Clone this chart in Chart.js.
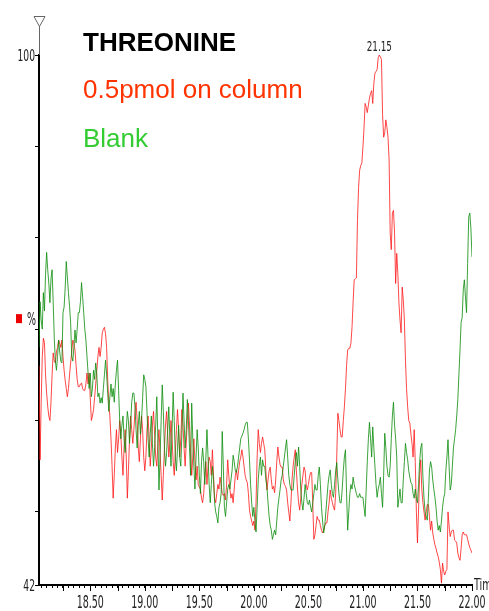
<!DOCTYPE html>
<html><head><meta charset="utf-8">
<script src="https://cdn.jsdelivr.net/npm/chart.js@4"></script>
<style>html,body{margin:0;padding:0;background:#fff;overflow:hidden}#wrap{width:489px;height:611px;position:relative}</style>
</head><body><div id="wrap"><canvas id="c" width="489" height="611"></canvas></div>
<script>
const retentionTimes = [
18.03,18.04,18.05,18.06,18.07,18.08,18.09,
18.10,18.11,18.12,18.13,18.14,18.15,18.16,18.17,18.18,18.19,
18.20,18.21,18.22,18.23,18.24,18.25,18.26,18.27,18.28,18.29,
18.30,18.31,18.32,18.33,18.34,18.35,18.36,18.37,18.38,18.39,
18.40,18.41,18.42,18.43,18.44,18.45,18.46,18.47,18.48,18.49,
18.50,18.51,18.52,18.53,18.54,18.55,18.56,18.57,18.58,18.59,
18.60,18.61,18.62,18.63,18.64,18.65,18.66,18.67,18.68,18.69,
18.70,18.71,18.72,18.73,18.74,18.75,18.76,18.77,18.78,18.79,
18.80,18.81,18.82,18.83,18.84,18.85,18.86,18.87,18.88,18.89,
18.90,18.91,18.92,18.93,18.94,18.95,18.96,18.97,18.98,18.99,
19.00,19.01,19.02,19.03,19.04,19.05,19.06,19.07,19.08,19.09,
19.10,19.11,19.12,19.13,19.14,19.15,19.16,19.17,19.18,19.19,
19.20,19.21,19.22,19.23,19.24,19.25,19.26,19.27,19.28,19.29,
19.30,19.31,19.32,19.33,19.34,19.35,19.36,19.37,19.38,19.39,
19.40,19.41,19.42,19.43,19.44,19.45,19.46,19.47,19.48,19.49,
19.50,19.51,19.52,19.53,19.54,19.55,19.56,19.57,19.58,19.59,
19.60,19.61,19.62,19.63,19.64,19.65,19.66,19.67,19.68,19.69,
19.70,19.71,19.72,19.73,19.74,19.75,19.76,19.77,19.78,19.79,
19.80,19.81,19.82,19.83,19.84,19.85,19.86,19.87,19.88,19.89,
19.90,19.91,19.92,19.93,19.94,19.95,19.96,19.97,19.98,19.99,
20.00,20.01,20.02,20.03,20.04,20.05,20.06,20.07,20.08,20.09,
20.10,20.11,20.12,20.13,20.14,20.15,20.16,20.17,20.18,20.19,
20.20,20.21,20.22,20.23,20.24,20.25,20.26,20.27,20.28,20.29,
20.30,20.31,20.32,20.33,20.34,20.35,20.36,20.37,20.38,20.39,
20.40,20.41,20.42,20.43,20.44,20.45,20.46,20.47,20.48,20.49,
20.50,20.51,20.52,20.53,20.54,20.55,20.56,20.57,20.58,20.59,
20.60,20.61,20.62,20.63,20.64,20.65,20.66,20.67,20.68,20.69,
20.70,20.71,20.72,20.73,20.74,20.75,20.76,20.77,20.78,20.79,
20.80,20.81,20.82,20.83,20.84,20.85,20.86,20.87,20.88,20.89,
20.90,20.91,20.92,20.93,20.94,20.95,20.96,20.97,20.98,20.99,
21.00,21.01,21.02,21.03,21.04,21.05,21.06,21.07,21.08,21.09,
21.10,21.11,21.12,21.13,21.14,21.15,21.16,21.17,21.18,21.19,
21.20,21.21,21.22,21.23,21.24,21.25,21.26,21.27,21.28,21.29,
21.30,21.31,21.32,21.33,21.34,21.35,21.36,21.37,21.38,21.39,
21.40,21.41,21.42,21.43,21.44,21.45,21.46,21.47,21.48,21.49,
21.50,21.51,21.52,21.53,21.54,21.55,21.56,21.57,21.58,21.59,
21.60,21.61,21.62,21.63,21.64,21.65,21.66,21.67,21.68,21.69,
21.70,21.71,21.72,21.73,21.74,21.75,21.76,21.77,21.78,21.79,
21.80,21.81,21.82,21.83,21.84,21.85,21.86,21.87,21.88,21.89,
21.90,21.91,21.92,21.93,21.94,21.95,21.96,21.97,21.98,21.99,
22.00];

// % intensity, 0.5 pmol on column (red)
const sampleSignal = [
66,55.7,62,67,69,68.5,65,
63,61.5,60.5,60,62,65,67.4,66.5,66.3,67.5,
68,68.8,68.5,68,68.8,67,65.5,64.4,63.5,62.6,
63.5,65,66.3,67.5,68.8,68.5,67.7,66,64.5,63.7,
63.7,64,64.1,63.5,63.3,63.3,64,65.2,64,65.2,
62.5,60,60.5,61.2,62.5,64,65.5,67,68,67,
68,69.6,70,70.2,69.5,68,64.4,62,60.4,58,
55,51.5,54,57,59,56.5,58,60,58.5,56,
54,57,59,56,51.5,54.5,58,60.5,59,57.5,
59,61,62,60,57,55.5,58,60.5,59,56,
54.5,56,59,60.5,58,55,57,59.5,61,58.5,
56,55,57.5,59,56.5,54,51.3,54,57,59.5,
61,58.5,56,57.5,60,58,55.5,54,56.5,59,
61.2,59,56,58,61.2,59.5,57,55,57.5,60,
61.9,59.5,56.5,54,56,58,55.5,53.5,55,53,
52.7,52.5,51.5,51,52,54,55.5,53,55,56,
55.5,54,56.8,54,51.5,51,52,53,52.5,53.8,
53,52,51.8,52,51.3,53,55.7,54,52.5,51.5,
52,51,52.5,54,54.6,53.5,54.5,55.5,56,56.8,
56,55,54,53.5,53.2,52,50.2,49.5,49,48.5,
49,48,51,56,59,57.5,56.5,57.5,58.2,57.5,
56.8,54.5,52.4,53.5,54.5,54.9,53.5,52.5,52.8,52.1,
53.5,55.5,57.1,56,55.2,54.9,54.9,53.5,53,52.8,
52.4,51,50,49,51,53.5,55,56,56.8,54.5,
52.5,51,50.2,51.5,53,54,54.9,54.5,53,52.4,
53,53.8,54.3,54.3,51,47,47.5,48.5,49.5,49.1,
49.1,48.5,48,47.7,48,48.5,48.8,48.8,50,51,
52.4,51.5,51,50.5,50.2,52,56,60.8,60,59,
58.2,58.2,60,61.5,63.5,66,67.7,67.9,67.9,68.5,
70.2,73,75.4,75.5,75.6,81.9,85.5,87.4,87.9,88.2,
89.9,92,94.7,94.3,93.7,94.5,95.3,95.8,96.1,94.7,
96.9,98,98.2,98.4,99.7,100,99.8,99.5,93.5,91,
91.5,92.9,92.1,91,88.5,80.5,78.7,82.7,83,80.5,
75,78.3,76.1,72.9,71,69.6,74.6,73.2,71,66.6,
63.5,61.5,60,59.7,58.5,57.5,56,59,55.4,50,
46.6,50.2,54,55.7,52.4,51,50,49.1,50,50.8,
50.8,49.5,48,49,47.7,47,46.4,46,45.5,45.1,
44.5,43.7,42.2,44.4,43.5,43.1,43.5,43.7,50,48.5,
47.3,47.8,48,48,46.9,46.8,46.6,45.5,45,44.7,
46,47.5,47.8,47.5,47.5,47.5,47,46.5,46.1,45.8,
45.5];

// % intensity, blank (green)
const blankSignal = [
68,73,71,70,74,72,76,
78.4,76.5,75,72.9,75.5,76.5,73,69,66.5,65.5,
67,68.8,67.5,66.5,66.3,71.8,72.4,74.5,77.4,75.7,
74,72.5,70.7,67,66.5,68,69.9,68.5,70,71.8,
71.8,73,75.1,73.5,71.8,70,68.8,67,65.2,63.5,
65.2,62.6,63.5,65.5,64.5,66.3,65,62.6,63,61.9,
62.5,61.9,63.5,65,66.6,65,63,61,62.6,64,
62.6,63.5,62,64,65.5,66.6,63.3,60,58,59.5,
60.5,58,56.5,59,61,60,57.5,59.5,62,63,
63,61.5,59,57,59.5,61,58.5,60,62.5,65,
64.5,63.7,61,58,56,58.5,60.5,57.5,55,57,
59.5,62.6,58,52.4,56,60,63.9,61,57,55,
56.5,59,61.5,58,55,59,63.1,60,56,54.5,
57,59.5,56,55,58.5,63,60,57,59,62.3,
60,57,54,61.9,58,55,52.5,56,59,57,
54,52,55.5,57,55.5,53,56,59,56,53,
51,53,55,53.5,51,50,49.5,48.8,50.5,51,
52,58.8,55,50.5,49.5,51,52.5,53,52.5,53.5,
54.5,56.2,55.5,54.5,54.3,55,56,57,58,58.3,
58.6,59,59.5,59.8,59.8,58,55.7,53,51,49.5,
50.5,49,47.8,50.5,53.5,55,56,54,55.7,55,
55,53.5,52.7,51,49.5,48.5,48,47,47.5,48,
47.5,49,50.5,51.5,52.4,53.5,54,55,56,57,
57.9,56,54,53,52.4,52.4,52.4,54,55.5,56.5,
55,57.1,55,52.5,51,50.2,51.5,53,52,51,
50.8,51.3,50.5,50,51,52,53,52.4,52.4,54,
54.9,53,50.5,49,47.7,48.5,50,51.5,53,54,
54.6,53,52,51.6,53,54.5,55.4,53.5,52,51,
51,52.5,54.5,56,56.8,52,48,50,52,53,
52.5,53.8,53,52.5,52,51.6,51.6,52,51.6,51.6,
51.6,50.5,49.5,52.5,55.5,58,59.8,58,56,59.3,
57,55,53,51.6,52.5,53,53.8,52,50.5,54,
58.6,57,55,54,53.8,55,58,60.5,62,59.5,
58,56,50.5,51.5,52.5,51,51,53.5,55.5,57.5,
56.5,55.7,54.5,53.8,53.2,53,52,51.5,52.5,51.5,
51,53,55.5,57,57.5,53.8,51.5,50,49.5,49.1,
51.5,54.6,55.5,54.9,53.5,52.5,51.6,50.5,49,48,
48.5,47.8,49,50.5,51.5,52,54.5,56,57.9,55,
52.4,53,55,57,58,59,60.5,62.3,65,67.7,
70.7,71.3,74.3,75.4,73.5,71.8,77.2,82.3,82.7,81,
77.9];

const xTickLabels = ['18.50','19.00','19.50','20.00','20.50','21.00','21.50','22.00'];
const yTickLabels = ['42','100'];
const yUnitLabel = '%';
const xUnitLabel = 'Time';
const chartTitle = 'THREONINE';
const seriesNames = ['0.5pmol on column','Blank'];
const peakTime = 21.15;
const peakLabel = '21.15';

const NARROW = "'Liberation Sans Narrow','Arial Narrow','DejaVu Sans Condensed',sans-serif";
const SANS = "'Liberation Sans',Arial,Helvetica,sans-serif";

function squeezeText(ctx, text, x, y, size, sx, align, color) {
  ctx.save();
  ctx.font = size + 'px ' + NARROW;
  ctx.fillStyle = color;
  ctx.textBaseline = 'alphabetic';
  const w = ctx.measureText(text).width * sx;
  let x0 = x;
  if (align === 'center') x0 = x - w / 2;
  else if (align === 'right') x0 = x - w;
  ctx.translate(x0, y);
  ctx.scale(sx, 1);
  ctx.textAlign = 'left';
  ctx.fillText(text, 0, 0);
  ctx.restore();
}

const decor = {
  id: 'decor',
  afterDraw(chart) {
    const ctx = chart.ctx;
    const a = chart.chartArea;
    const xs = chart.scales.x, ys = chart.scales.y;
    ctx.save();
    // axis extension and inverted triangle marker on top
    ctx.strokeStyle = '#666';
    ctx.lineWidth = 1;
    ctx.beginPath();
    ctx.moveTo(a.left + 0.5, a.top);
    ctx.lineTo(a.left + 0.5, 26);
    ctx.stroke();
    ctx.beginPath();
    ctx.moveTo(a.left - 5, 16.5);
    ctx.lineTo(a.left + 6, 16.5);
    ctx.lineTo(a.left + 0.5, 26.5);
    ctx.closePath();
    ctx.stroke();
    // longer x ticks at every 0.25 min
    ctx.strokeStyle = '#000';
    ctx.lineWidth = 1;
    for (let t = 18.25; t <= 22.001; t += 0.25) {
      const px = Math.round(xs.getPixelForValue(t)) + 0.5;
      ctx.beginPath();
      ctx.moveTo(px, a.bottom);
      ctx.lineTo(px, a.bottom + 6);
      ctx.stroke();
    }
    // x tick labels
    xTickLabels.forEach(l => {
      const px = xs.getPixelForValue(parseFloat(l));
      squeezeText(ctx, l, px, 608, 17, 0.62, 'center', '#222');
    });
    squeezeText(ctx, xUnitLabel, 474, 590, 15, 0.72, 'left', '#222');
    // y tick labels
    yTickLabels.forEach(l => {
      const py = ys.getPixelForValue(parseFloat(l));
      squeezeText(ctx, l, 35, py + 5.5, 15, 0.68, 'right', '#222');
    });
    // % unit and red marker
    const pm = ys.getPixelForValue(70);
    ctx.fillStyle = '#ee0000';
    ctx.fillRect(16, pm - 15, 6, 9);
    squeezeText(ctx, yUnitLabel, 27, pm - 4, 17, 0.62, 'left', '#222');
    // peak label
    squeezeText(ctx, peakLabel, xs.getPixelForValue(peakTime), ys.getPixelForValue(100) - 4, 14, 0.7, 'center', '#222');
    // titles
    ctx.textAlign = 'left';
    ctx.textBaseline = 'alphabetic';
    ctx.font = 'bold 26px ' + SANS;
    ctx.fillStyle = '#000';
    ctx.fillText(chartTitle, 83, 51);
    ctx.font = '26px ' + SANS;
    ctx.fillStyle = '#ff3300';
    ctx.fillText(seriesNames[0], 83, 98);
    ctx.fillStyle = '#33cc33';
    ctx.fillText(seriesNames[1], 83, 147);
    ctx.restore();
  }
};

const blankPoints = retentionTimes.map((t, i) => ({x: t, y: blankSignal[i]}));
const samplePoints = retentionTimes.map((t, i) => ({x: t, y: sampleSignal[i]}));

new Chart(document.getElementById('c'), {
  type: 'line',
  data: {
    datasets: [
      {label: seriesNames[1], data: blankPoints, borderColor: 'rgba(10,140,10,0.8)', borderWidth: 1, pointRadius: 0, tension: 0, fill: false},
      {label: seriesNames[0], data: samplePoints, borderColor: 'rgba(255,20,20,0.78)', borderWidth: 1, pointRadius: 0, tension: 0, fill: false}
    ]
  },
  options: {
    responsive: false,
    animation: false,
    events: [],
    layout: {padding: {top: 55, right: 17, left: 0, bottom: 0}},
    plugins: {legend: {display: false}, tooltip: {enabled: false}, title: {display: false}},
    scales: {
      x: {
        type: 'linear', min: 18.03, max: 22.0,
        afterFit(s) { s.height = 26; s.paddingLeft = 0; s.paddingRight = 0; },
        ticks: {stepSize: 0.05, autoSkip: false, includeBounds: false, maxRotation: 0, display: false},
        grid: {display: true, drawOnChartArea: false, drawTicks: true, tickLength: 3, tickColor: '#000', tickWidth: 1},
        border: {display: true, color: '#000', width: 2}
      },
      y: {
        type: 'linear', min: 42, max: 100,
        afterFit(s) { s.width = 39; },
        ticks: {stepSize: 10, display: false},
        grid: {display: true, drawOnChartArea: false, drawTicks: true, tickLength: 4, tickColor: '#000', tickWidth: 1},
        border: {display: true, color: '#000', width: 2}
      }
    }
  },
  plugins: [decor]
});
</script>
</body></html>
